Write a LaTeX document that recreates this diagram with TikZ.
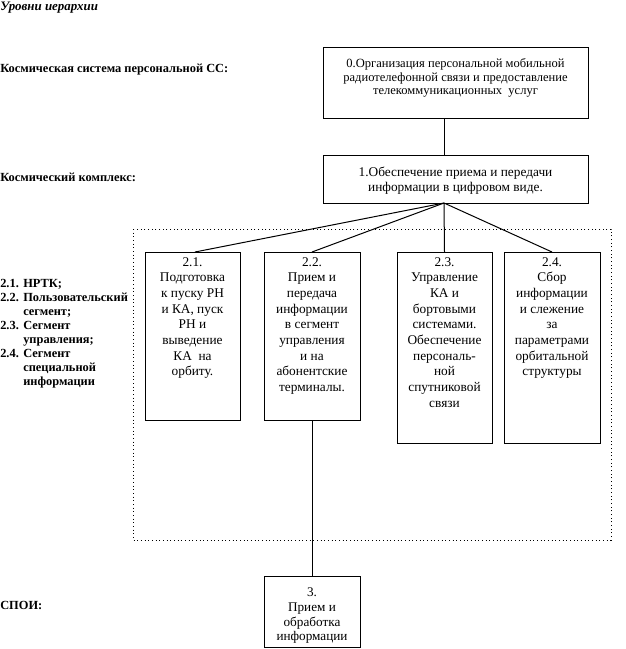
\documentclass[tikz,border=0pt]{standalone}
\usepackage{fontspec}
\setmainfont{Liberation Serif}
\usetikzlibrary{positioning, calc}

\newcommand{\boxtext}[4]{\parbox[c][#2][t]{#1}{\centering\vspace*{#3}#4}}

\begin{document}
\begin{tikzpicture}[
    x=0.75pt, y=-0.75pt,
    stage/.style={rectangle, draw, line width=0.75pt, inner sep=0pt, outer sep=0pt},
    level/.style={anchor=west, inner sep=0pt, font=\fontsize{9.3}{10.5}\selectfont\bfseries},
    link/.style={line width=0.75pt},
    segment/.style={dotted, line width=0.75pt}
]
\useasboundingbox (0,0) rectangle (625,649);

% Levels of the hierarchy
\node[level, font=\fontsize{9.7}{10.5}\selectfont\bfseries\itshape] (title) at (0,8) {Уровни иерархии};
\node[level] (lvl0) at (0,70) {Космическая система персональной СС:};
\node[level] (lvl1) at (0,177) {Космический комплекс:};
\node[level, anchor=north west, align=left] (lvl2) at (0,279)
     {\makebox[17.25pt][l]{2.1.}НРТК;\\
      \makebox[17.25pt][l]{2.2.}Пользовательский\\
      \hspace*{17.25pt}сегмент;\\
      \makebox[17.25pt][l]{2.3.}Сегмент\\
      \hspace*{17.25pt}управления;\\
      \makebox[17.25pt][l]{2.4.}Сегмент\\
      \hspace*{17.25pt}специальной\\
      \hspace*{17.25pt}информации};
\node[level] (lvl3) at (0,605) {СПОИ:};

% Boxes
\node[stage, font=\fontsize{9.4}{10.25}\selectfont] (org) at (455.5,83.5)
     {\boxtext{198.75pt}{53.25pt}{8pt}{0.Организация персональной мобильной\\
      радиотелефонной связи и предоставление\\ телекоммуникационных\ \ услуг}};
\node[stage, font=\fontsize{10}{11.75}\selectfont] (complex) at (455.5,179.5)
     {\boxtext{198.75pt}{35.25pt}{8pt}{1.Обеспечение приема и передачи\\
      информации в цифровом виде.}};

\draw[segment] (133,229) rectangle (611,540);

\node[stage, font=\fontsize{10}{11.75}\selectfont] (nrtk) at (192.5,336)
     {\boxtext{71.25pt}{126pt}{4pt}{2.1.\\ Подготовка\\ к пуску РН\\ и КА, пуск\\ РН и\\ выведение\\ КА\ \ на\\ орбиту.}};
\node[stage, font=\fontsize{10}{11.75}\selectfont] (user) at (312,336)
     {\boxtext{72pt}{126pt}{4pt}{2.2.\\ Прием и\\ передача\\ информации\\ в сегмент\\ управления\\ и на\\ абонентские\\ терминалы.}};
\node[stage, font=\fontsize{10}{11.75}\selectfont] (control) at (444.5,347.5)
     {\boxtext{71.25pt}{143.25pt}{4pt}{2.3.\\ Управление\\ КА и\\ бортовыми\\ системами.\\ Обеспечение\\ персональ-\\ ной\\ спутниковой\\ связи}};
\node[stage, font=\fontsize{10}{11.75}\selectfont] (special) at (552,347.5)
     {\boxtext{72pt}{143.25pt}{4pt}{2.4.\\ Сбор\\ информации\\ и слежение\\ за\\ параметрами\\ орбитальной\\ структуры}};

\node[stage, font=\fontsize{9.9}{11}\selectfont] (spoi) at (312,611.5)
     {\boxtext{72pt}{53.25pt}{9pt}{3.\\ Прием и\\ обработка\\ информации}};

% Connectors
\coordinate (hub) at ($(complex.south)+(-11.5,0)$);
\draw[link] ($(org.south)+(-11.5,0)$) -- ($(complex.north)+(-11.5,0)$);
\draw[link] (hub) -- ($(nrtk.north)+(2.5,0)$);
\draw[link] (hub) -- (user.north);
\draw[link] (hub) -- (control.north);
\draw[link] (hub) -- (special.north);
\draw[link] (user.south) -- (spoi.north);

\end{tikzpicture}
\end{document}
